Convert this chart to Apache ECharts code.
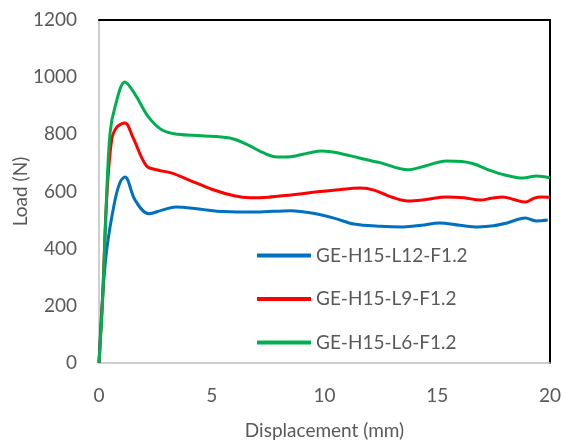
<!DOCTYPE html>
<html><head><meta charset="utf-8">
<script src="https://cdn.jsdelivr.net/npm/echarts@6/dist/echarts.min.js"></script>
<style>html,body{margin:0;padding:0;background:#fff}#c{width:565px;height:443px}</style>
</head><body><div id="c"></div>
<script>
const seriesNames = ["GE-H15-L12-F1.2", "GE-H15-L9-F1.2", "GE-H15-L6-F1.2"];
const xTicks = [0, 5, 10, 15, 20];
const yTicks = [0, 200, 400, 600, 800, 1000, 1200];

const l12X = [0, 0.15, 0.34, 0.71, 0.95, 1.15, 1.6, 2.2, 2.8, 3.4, 4.5, 5.5, 7, 8.5, 9.5, 10.5, 11.3, 12.5, 13.5, 14.3, 15.1, 16, 16.8, 17.5, 18.1, 18.9, 19.4, 19.9];
const l12Y = [0, 220, 395, 570, 635, 651, 570, 522, 535, 546, 538, 530, 528, 533, 524, 505, 486, 478, 476, 482, 490, 482, 476, 480, 490, 507, 497, 500];

const l9X = [0, 0.16, 0.33, 0.56, 0.8, 1.15, 1.5, 2.1, 2.6, 3.2, 4, 5, 6, 6.7, 7.5, 8.5, 9.5, 10.5, 11.6, 12.2, 13, 13.7, 14.5, 15.4, 16.2, 16.9, 17.4, 17.9, 18.4, 18.9, 19.3, 19.6, 20];
const l9Y = [0, 230, 560, 780, 826, 840, 790, 690, 675, 665, 640, 608, 585, 578, 580, 588, 597, 605, 612, 605, 580, 567, 572, 581, 578, 570, 576, 581, 572, 563, 577, 581, 580];

const l6X = [0, 0.16, 0.33, 0.49, 0.71, 1.15, 1.6, 2.2, 2.8, 3.5, 4.5, 5.8, 6.6, 7.3, 7.9, 8.5, 9.3, 9.9, 10.6, 11.5, 12.5, 13.7, 14.5, 15.4, 16.1, 16.6, 17.3, 18, 18.8, 19.4, 20];
const l6Y = [0, 220, 570, 805, 896, 983, 940, 860, 815, 800, 795, 787, 763, 735, 721, 722, 735, 742, 735, 718, 700, 676, 690, 707, 705, 697, 675, 658, 647, 654, 648];

const colors = ["#0070C0", "#FF0000", "#00B050"];
const pair = (xs, ys) => xs.map((x, i) => [x, ys[i]]);
const font = "Lato";
const grey = "#595959";

const chart = echarts.init(document.getElementById('c'), null, {renderer: 'canvas'});
chart.setOption({
  animation: false,
  backgroundColor: '#fff',
  textStyle: {fontFamily: font},
  grid: {left: 99, right: 15, top: 20, bottom: 80, containLabel: false, outerBoundsMode: 'none'},
  legend: {
    orient: 'vertical', left: 252, top: 241, itemGap: 24.5,
    icon: 'rect', itemWidth: 54, itemHeight: 4,
    textStyle: {fontFamily: font, fontSize: 19, color: grey},
    data: seriesNames
  },
  xAxis: [{
    type: 'value', min: 0, max: 20, interval: 5,
    name: 'Displacement (mm)', nameLocation: 'middle', nameGap: 58, nameMoveOverlap: false,
    nameTextStyle: {fontFamily: font, fontSize: 19, color: grey},
    axisLine: {show: true, onZero: false, lineStyle: {color: '#BFBFBF', width: 1.5}},
    axisTick: {show: false}, splitLine: {show: false},
    axisLabel: {fontFamily: font, fontSize: 19, color: grey, margin: 23,
      formatter: v => xTicks.includes(v) ? String(v) : ''}
  }, {
    type: 'value', position: 'top', min: 0, max: 20,
    axisLine: {show: true, onZero: false, lineStyle: {color: '#000', width: 2}},
    axisTick: {show: false}, axisLabel: {show: false}, splitLine: {show: false}
  }],
  yAxis: [{
    type: 'value', min: 0, max: 1200, interval: 200,
    name: 'Load (N)', nameLocation: 'middle', nameGap: 69, nameMoveOverlap: false,
    nameTextStyle: {fontFamily: font, fontSize: 19, color: grey},
    axisLine: {show: true, onZero: false, lineStyle: {color: '#BFBFBF', width: 1.5}},
    axisTick: {show: false}, splitLine: {show: false},
    axisLabel: {fontFamily: font, fontSize: 19, color: grey, margin: 22,
      formatter: v => yTicks.includes(v) ? String(v) : ''}
  }, {
    type: 'value', position: 'right', min: 0, max: 1200,
    axisLine: {show: true, onZero: false, lineStyle: {color: '#000', width: 2}},
    axisTick: {show: false}, axisLabel: {show: false}, splitLine: {show: false}
  }],
  series: [
    {name: seriesNames[0], data: pair(l12X, l12Y)},
    {name: seriesNames[1], data: pair(l9X, l9Y)},
    {name: seriesNames[2], data: pair(l6X, l6Y)}
  ].map((s, i) => Object.assign(s, {
    type: 'line', smooth: 0.35, symbol: 'none', color: colors[i],
    lineStyle: {width: 3, color: colors[i]}, z: 3 + i
  }))
});
</script></body></html>
